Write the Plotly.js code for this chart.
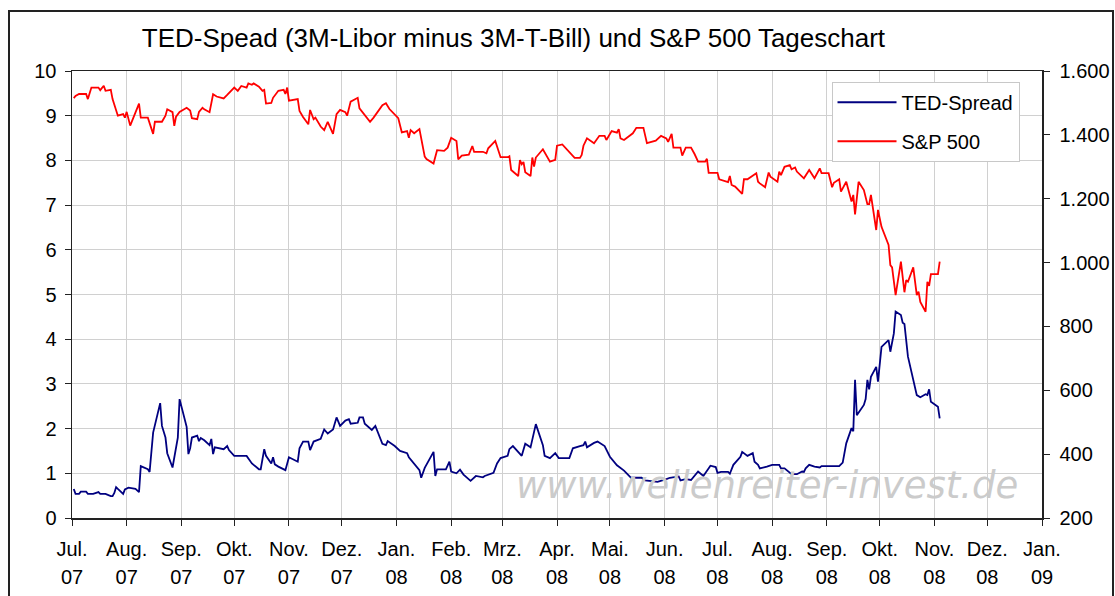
<!DOCTYPE html>
<html>
<head>
<meta charset="utf-8">
<script src="https://cdn.plot.ly/plotly-3.0.1.min.js"></script>
<style>
  html, body { margin: 0; padding: 0; background: #fff; }
  #chart { position: absolute; left: 0; top: 0; width: 1115px; height: 596px; }
  #frame { position: absolute; left: 8px; top: 10px; width: 1102px; height: 600px; border: 2px solid #222; pointer-events: none; }
</style>
</head>
<body>
<div id="chart"></div>
<div id="frame"></div>
<script>
// ---- Data ----
const tedDates = [
  "2007-07-02","2007-07-03","2007-07-05","2007-07-06","2007-07-09","2007-07-10","2007-07-13","2007-07-16","2007-07-17","2007-07-20",
  "2007-07-23","2007-07-24","2007-07-25","2007-07-26","2007-07-27","2007-07-30","2007-07-31","2007-08-02","2007-08-06","2007-08-08",
  "2007-08-09","2007-08-13","2007-08-14","2007-08-16","2007-08-20","2007-08-21","2007-08-23","2007-08-24","2007-08-27","2007-08-29",
  "2007-08-30","2007-08-31","2007-09-04","2007-09-05","2007-09-06","2007-09-07","2007-09-10","2007-09-11","2007-09-12","2007-09-14",
  "2007-09-17","2007-09-18","2007-09-19","2007-09-20","2007-09-25","2007-09-27","2007-09-28","2007-10-01","2007-10-08","2007-10-11",
  "2007-10-15","2007-10-16","2007-10-18","2007-10-19","2007-10-22","2007-10-23","2007-10-24","2007-10-26","2007-10-30","2007-11-01",
  "2007-11-06","2007-11-07","2007-11-09","2007-11-12","2007-11-13","2007-11-15","2007-11-19","2007-11-21","2007-11-23","2007-11-26",
  "2007-11-28","2007-11-30","2007-12-03","2007-12-05","2007-12-06","2007-12-10","2007-12-11","2007-12-13","2007-12-14","2007-12-18",
  "2007-12-20","2007-12-24","2007-12-26","2007-12-27","2007-12-31","2008-01-03","2008-01-07","2008-01-08","2008-01-10","2008-01-14",
  "2008-01-15","2008-01-17","2008-01-22","2008-01-23","2008-01-24","2008-01-29","2008-01-31","2008-02-01","2008-02-04","2008-02-06",
  "2008-02-08","2008-02-12","2008-02-15","2008-02-19","2008-02-20","2008-02-25","2008-02-27","2008-02-29","2008-03-04","2008-03-05",
  "2008-03-07","2008-03-11","2008-03-12","2008-03-14","2008-03-17","2008-03-20","2008-03-24","2008-03-25","2008-03-28","2008-03-31",
  "2008-04-02","2008-04-08","2008-04-10","2008-04-14","2008-04-16","2008-04-17","2008-04-18","2008-04-22","2008-04-24","2008-04-28",
  "2008-05-01","2008-05-05","2008-05-09","2008-05-13","2008-05-19","2008-05-21","2008-05-28","2008-06-02","2008-06-04","2008-06-09",
  "2008-06-10","2008-06-13","2008-06-16","2008-06-20","2008-06-23","2008-06-27","2008-06-30","2008-07-01","2008-07-03","2008-07-07",
  "2008-07-08","2008-07-10","2008-07-14","2008-07-15","2008-07-18","2008-07-21","2008-07-22","2008-07-24","2008-07-25","2008-07-29",
  "2008-08-01","2008-08-05","2008-08-06","2008-08-08","2008-08-12","2008-08-15","2008-08-18","2008-08-19","2008-08-20","2008-08-22",
  "2008-08-25","2008-08-28","2008-08-29","2008-09-08","2008-09-09","2008-09-10","2008-09-12","2008-09-15","2008-09-16","2008-09-17",
  "2008-09-18","2008-09-22","2008-09-23","2008-09-24","2008-09-25","2008-09-26","2008-09-29","2008-09-30","2008-10-02","2008-10-06",
  "2008-10-07","2008-10-09","2008-10-10","2008-10-13","2008-10-14","2008-10-15","2008-10-17","2008-10-20","2008-10-22","2008-10-24",
  "2008-10-27","2008-10-28","2008-10-29","2008-10-30","2008-11-03","2008-11-04"
];
const tedValues = [
  0.65,0.54,0.54,0.59,0.59,0.54,0.54,0.58,0.54,0.54,
  0.49,0.49,0.56,0.69,0.65,0.54,0.64,0.68,0.65,0.58,
  1.16,1.09,1.03,1.91,2.57,2.06,1.80,1.45,1.13,1.61,
  1.80,2.66,2.04,1.43,1.56,1.80,1.84,1.72,1.79,1.74,
  1.63,1.77,1.43,1.58,1.54,1.61,1.52,1.39,1.39,1.22,
  1.09,1.09,1.54,1.39,1.22,1.36,1.20,1.15,1.07,1.36,
  1.26,1.56,1.71,1.71,1.52,1.71,1.77,1.98,1.89,1.98,
  2.25,2.06,2.18,2.21,2.11,2.13,2.25,2.25,2.11,1.97,
  2.06,1.66,1.63,1.72,1.61,1.50,1.45,1.36,1.26,1.07,
  0.90,1.12,1.48,0.94,1.09,1.09,1.26,1.04,1.00,1.08,
  0.97,0.83,0.94,0.91,0.94,1.01,1.22,1.34,1.39,1.54,
  1.61,1.45,1.39,1.66,1.58,2.10,1.63,1.39,1.34,1.45,
  1.34,1.34,1.56,1.61,1.63,1.71,1.58,1.68,1.71,1.61,
  1.37,1.18,1.06,0.90,0.90,0.84,0.81,0.87,0.90,0.93,
  0.84,0.87,0.85,1.04,0.94,1.17,1.14,1.01,1.03,1.03,
  0.99,1.19,1.37,1.48,1.39,1.45,1.26,1.19,1.11,1.15,
  1.19,1.19,1.11,1.11,0.98,0.98,1.04,1.03,1.11,1.19,
  1.15,1.13,1.16,1.16,1.19,1.24,1.67,2.01,1.94,3.09,
  2.30,2.53,2.66,3.09,2.88,3.16,3.38,3.05,3.83,3.98,
  3.72,4.13,4.62,4.54,4.37,4.34,3.61,3.09,2.75,2.70,
  2.77,2.75,2.88,2.60,2.49,2.23
];

const spxDates = [
  "2007-07-02","2007-07-03","2007-07-05","2007-07-09","2007-07-10","2007-07-12","2007-07-16","2007-07-17","2007-07-19","2007-07-20",
  "2007-07-23","2007-07-24","2007-07-27","2007-07-30","2007-07-31","2007-08-01","2007-08-03","2007-08-08","2007-08-09","2007-08-13",
  "2007-08-16","2007-08-17","2007-08-21","2007-08-23","2007-08-24","2007-08-27","2007-08-28","2007-08-29","2007-08-31","2007-09-04",
  "2007-09-06","2007-09-07","2007-09-10","2007-09-11","2007-09-13","2007-09-14","2007-09-17","2007-09-19","2007-09-21","2007-09-25",
  "2007-09-27","2007-10-01","2007-10-03","2007-10-05","2007-10-08","2007-10-09","2007-10-11","2007-10-12","2007-10-15","2007-10-17",
  "2007-10-18","2007-10-19","2007-10-22","2007-10-23","2007-10-26","2007-10-29","2007-10-30","2007-10-31","2007-11-01","2007-11-06",
  "2007-11-07","2007-11-09","2007-11-12","2007-11-13","2007-11-15","2007-11-16","2007-11-19","2007-11-21","2007-11-23","2007-11-26",
  "2007-11-28","2007-11-30","2007-12-03","2007-12-04","2007-12-06","2007-12-10","2007-12-11","2007-12-14","2007-12-17","2007-12-19",
  "2007-12-24","2007-12-26","2007-12-28","2008-01-02","2008-01-04","2008-01-07","2008-01-08","2008-01-09","2008-01-11","2008-01-14",
  "2008-01-17","2008-01-18","2008-01-22","2008-01-24","2008-01-28","2008-01-30","2008-02-01","2008-02-04","2008-02-05","2008-02-07",
  "2008-02-11","2008-02-13","2008-02-14","2008-02-19","2008-02-21","2008-02-22","2008-02-26","2008-02-29","2008-03-04","2008-03-05",
  "2008-03-06","2008-03-10","2008-03-11","2008-03-12","2008-03-13","2008-03-14","2008-03-17","2008-03-18","2008-03-19","2008-03-20",
  "2008-03-24","2008-03-28","2008-03-31","2008-04-01","2008-04-04","2008-04-11","2008-04-14","2008-04-15","2008-04-16","2008-04-18",
  "2008-04-22","2008-04-25","2008-04-28","2008-04-29","2008-05-02","2008-05-05","2008-05-06","2008-05-07","2008-05-09","2008-05-14",
  "2008-05-16","2008-05-20","2008-05-22","2008-05-27","2008-05-30","2008-06-02","2008-06-03","2008-06-05","2008-06-06","2008-06-10",
  "2008-06-11","2008-06-13","2008-06-16","2008-06-18","2008-06-20","2008-06-24","2008-06-25","2008-06-26","2008-07-01","2008-07-02",
  "2008-07-07","2008-07-08","2008-07-09","2008-07-11","2008-07-15","2008-07-16","2008-07-18","2008-07-23","2008-07-24","2008-07-25",
  "2008-07-28","2008-07-30","2008-07-31","2008-08-04","2008-08-05","2008-08-06","2008-08-08","2008-08-11","2008-08-12","2008-08-14",
  "2008-08-15","2008-08-19","2008-08-22","2008-08-25","2008-08-28","2008-08-29","2008-09-02","2008-09-04","2008-09-05","2008-09-08",
  "2008-09-09","2008-09-12","2008-09-15","2008-09-16","2008-09-17","2008-09-19","2008-09-22","2008-09-24","2008-09-25","2008-09-26",
  "2008-09-29","2008-09-30","2008-10-02","2008-10-06","2008-10-07","2008-10-08","2008-10-10","2008-10-13","2008-10-15","2008-10-16",
  "2008-10-17","2008-10-20","2008-10-22","2008-10-23","2008-10-24","2008-10-27","2008-10-28","2008-10-29","2008-10-30","2008-10-31",
  "2008-11-03","2008-11-04"
];
const spxValues = [
  1515,1522,1528,1528,1512,1548,1548,1540,1554,1538,
  1541,1512,1460,1465,1454,1472,1429,1498,1454,1454,
  1403,1441,1441,1460,1480,1471,1428,1457,1472,1485,
  1476,1452,1449,1472,1485,1480,1471,1527,1520,1514,
  1525,1548,1538,1553,1548,1561,1557,1561,1551,1538,
  1541,1498,1500,1516,1538,1541,1528,1548,1507,1512,
  1475,1456,1433,1478,1449,1454,1426,1415,1441,1403,
  1465,1478,1471,1460,1504,1516,1483,1460,1441,1454,
  1493,1499,1481,1452,1408,1412,1391,1415,1405,1418,
  1332,1324,1310,1352,1350,1360,1391,1381,1323,1335,
  1338,1365,1347,1347,1342,1358,1381,1330,1330,1333,
  1290,1271,1321,1308,1315,1283,1271,1329,1301,1329,
  1355,1316,1322,1366,1370,1328,1328,1337,1366,1389,
  1374,1397,1397,1384,1412,1407,1418,1389,1384,1405,
  1422,1422,1374,1382,1397,1389,1378,1403,1360,1360,
  1335,1360,1360,1340,1316,1316,1325,1281,1281,1261,
  1252,1271,1243,1238,1215,1261,1261,1280,1253,1248,
  1236,1282,1269,1253,1285,1274,1300,1305,1292,1298,
  1285,1264,1290,1264,1295,1280,1280,1236,1250,1261,
  1222,1253,1191,1212,1151,1253,1227,1183,1183,1212,
  1102,1165,1112,1055,992,985,898,1003,907,945,
  940,985,898,909,877,846,940,927,964,964,
  964,1003
];

const monthTicks = ["2007-07-01","2007-08-01","2007-09-01","2007-10-01","2007-11-01","2007-12-01","2008-01-01","2008-02-01","2008-03-01","2008-04-01","2008-05-01","2008-06-01","2008-07-01","2008-08-01","2008-09-01","2008-10-01","2008-11-01","2008-12-01","2009-01-01"];
const monthLabels = ["Jul.","Aug.","Sep.","Okt.","Nov.","Dez.","Jan.","Feb.","Mrz.","Apr.","Mai.","Jun.","Jul.","Aug.","Sep.","Okt.","Nov.","Dez.","Jan."];
const yearLabels = ["07","07","07","07","07","07","08","08","08","08","08","08","08","08","08","08","08","08","09"];
const leftTicks = [0,1,2,3,4,5,6,7,8,9,10];
const rightTicks = [200,400,600,800,1000,1200,1400,1600];

// ---- Chart ----
const FONT = "Liberation Sans, Arial, sans-serif";
const TICK = 20;
const xRange = ["2007-07-01","2009-01-01"];

const traces = [
  {
    x: tedDates, y: tedValues, name: "TED-Spread", type: "scatter", mode: "lines",
    line: {color: "#000080", width: 1.8}, xaxis: "x", yaxis: "y", legendgroup: "a"
  },
  {
    x: spxDates, y: spxValues, name: "S&P 500", type: "scatter", mode: "lines",
    line: {color: "#ff0000", width: 1.8}, xaxis: "x2", yaxis: "y2", legendgroup: "b"
  }
];

const layout = {
  width: 1115, height: 596,
  margin: {l: 72, r: 73, t: 71, b: 78},
  paper_bgcolor: "#ffffff", plot_bgcolor: "#ffffff",
  separators: ",.",
  font: {family: FONT, size: TICK, color: "#000"},
  title: {
    text: "TED-Spead (3M-Libor minus 3M-T-Bill) und S&P 500 Tageschart",
    x: 0.4605, xanchor: "center", xref: "container",
    y: 0.936, yanchor: "middle", yref: "container",
    font: {family: FONT, size: 26, color: "#000"}
  },
  xaxis: {
    type: "date", range: xRange,
    tickmode: "array", tickvals: monthTicks, ticktext: monthLabels,
    showgrid: true, gridcolor: "#d0d0d0", gridwidth: 1,
    showline: true, linecolor: "#222", linewidth: 1.5, mirror: true,
    ticks: "outside", ticklen: 6, tickcolor: "#222", tickwidth: 1,
    ticklabelstandoff: 6,
    tickfont: {family: FONT, size: TICK, color: "#000"},
    zeroline: false, fixedrange: true
  },
  xaxis2: {
    type: "date", range: xRange, overlaying: "x", anchor: "y", side: "bottom",
    tickmode: "array", tickvals: monthTicks, ticktext: yearLabels,
    showgrid: false, showline: false, ticks: "",
    ticklabelstandoff: 45,
    tickfont: {family: FONT, size: TICK, color: "#000"},
    zeroline: false, fixedrange: true
  },
  yaxis: {
    range: [0, 10], tickmode: "array", tickvals: leftTicks,
    showgrid: true, gridcolor: "#d0d0d0", gridwidth: 1,
    showline: true, linecolor: "#222", linewidth: 1.5, mirror: true,
    ticks: "outside", ticklen: 6, tickcolor: "#222",
    ticklabelstandoff: 4,
    tickfont: {family: FONT, size: TICK, color: "#000"},
    zeroline: false, fixedrange: true
  },
  yaxis2: {
    range: [200, 1600], overlaying: "y", side: "right", anchor: "x",
    tickmode: "array", tickvals: rightTicks, tickformat: ",d",
    showgrid: false, showline: true, linecolor: "#222", linewidth: 1.5,
    ticks: "outside", ticklen: 6, tickcolor: "#222",
    ticklabelstandoff: 6,
    tickfont: {family: FONT, size: TICK, color: "#000"},
    zeroline: false, fixedrange: true
  },
  legend: {
    x: 0.783, xanchor: "left", y: 0.976, yanchor: "top",
    bgcolor: "#ffffff", bordercolor: "#c8c8c8", borderwidth: 1,
    font: {family: FONT, size: 20, color: "#000"},
    tracegroupgap: 10, traceorder: "grouped", itemwidth: 59
  },
  showlegend: true,
  annotations: [
    {
      text: "www.wellenreiter-invest.de", xref: "paper", yref: "paper",
      x: 0.7165, y: 0.0725, xanchor: "center", yanchor: "middle", showarrow: false,
      font: {family: "DejaVu Sans, Verdana, sans-serif", size: 37, color: "#cbcbcb", style: "italic"}
    }
  ]
};

Plotly.newPlot("chart", traces, layout, {displayModeBar: false, staticPlot: true});
</script>
</body>
</html>
